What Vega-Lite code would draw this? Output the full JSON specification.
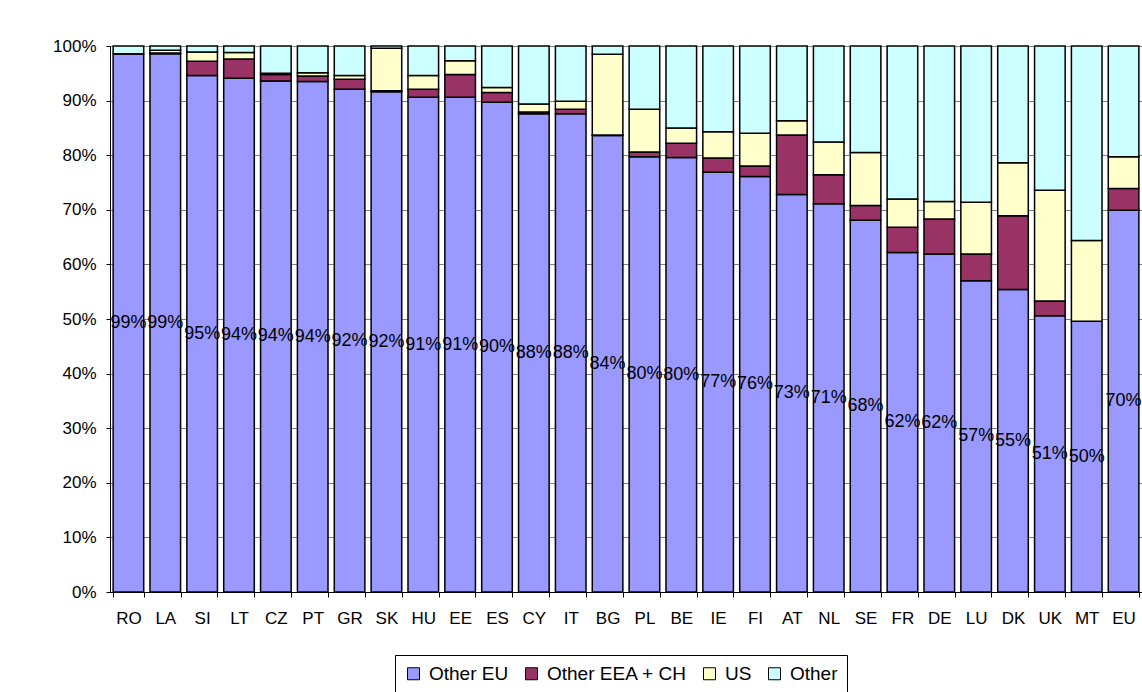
{
  "$schema": "https://vega.github.io/schema/vega-lite/v6.json",
  "width": 1032,
  "height": 546,
  "autosize": {"type": "none"},
  "padding": {"left": 110, "top": 46, "right": 0, "bottom": 100},
  "background": "white",
  "config": {
    "font": "Liberation Sans",
    "view": {"stroke": null},
    "axis": {"labelColor": "black", "domainColor": "black", "tickColor": "black", "labelFont": "Liberation Sans"}
  },
  "datasets": {
    "d": [
      {"c":"RO","s":"Other EU","v":0.986},{"c":"RO","s":"Other EEA + CH","v":0.0},{"c":"RO","s":"US","v":0.0},{"c":"RO","s":"Other","v":0.014},
      {"c":"LA","s":"Other EU","v":0.986},{"c":"LA","s":"Other EEA + CH","v":0.001},{"c":"LA","s":"US","v":0.005},{"c":"LA","s":"Other","v":0.008},
      {"c":"SI","s":"Other EU","v":0.946},{"c":"SI","s":"Other EEA + CH","v":0.026},{"c":"SI","s":"US","v":0.017},{"c":"SI","s":"Other","v":0.011},
      {"c":"LT","s":"Other EU","v":0.941},{"c":"LT","s":"Other EEA + CH","v":0.035},{"c":"LT","s":"US","v":0.012},{"c":"LT","s":"Other","v":0.012},
      {"c":"CZ","s":"Other EU","v":0.936},{"c":"CZ","s":"Other EEA + CH","v":0.012},{"c":"CZ","s":"US","v":0.002},{"c":"CZ","s":"Other","v":0.050},
      {"c":"PT","s":"Other EU","v":0.935},{"c":"PT","s":"Other EEA + CH","v":0.010},{"c":"PT","s":"US","v":0.006},{"c":"PT","s":"Other","v":0.049},
      {"c":"GR","s":"Other EU","v":0.921},{"c":"GR","s":"Other EEA + CH","v":0.018},{"c":"GR","s":"US","v":0.007},{"c":"GR","s":"Other","v":0.054},
      {"c":"SK","s":"Other EU","v":0.916},{"c":"SK","s":"Other EEA + CH","v":0.002},{"c":"SK","s":"US","v":0.078},{"c":"SK","s":"Other","v":0.004},
      {"c":"HU","s":"Other EU","v":0.906},{"c":"HU","s":"Other EEA + CH","v":0.015},{"c":"HU","s":"US","v":0.025},{"c":"HU","s":"Other","v":0.054},
      {"c":"EE","s":"Other EU","v":0.906},{"c":"EE","s":"Other EEA + CH","v":0.042},{"c":"EE","s":"US","v":0.025},{"c":"EE","s":"Other","v":0.027},
      {"c":"ES","s":"Other EU","v":0.897},{"c":"ES","s":"Other EEA + CH","v":0.018},{"c":"ES","s":"US","v":0.009},{"c":"ES","s":"Other","v":0.076},
      {"c":"CY","s":"Other EU","v":0.876},{"c":"CY","s":"Other EEA + CH","v":0.003},{"c":"CY","s":"US","v":0.015},{"c":"CY","s":"Other","v":0.106},
      {"c":"IT","s":"Other EU","v":0.876},{"c":"IT","s":"Other EEA + CH","v":0.008},{"c":"IT","s":"US","v":0.015},{"c":"IT","s":"Other","v":0.101},
      {"c":"BG","s":"Other EU","v":0.836},{"c":"BG","s":"Other EEA + CH","v":0.001},{"c":"BG","s":"US","v":0.148},{"c":"BG","s":"Other","v":0.015},
      {"c":"PL","s":"Other EU","v":0.797},{"c":"PL","s":"Other EEA + CH","v":0.009},{"c":"PL","s":"US","v":0.078},{"c":"PL","s":"Other","v":0.116},
      {"c":"BE","s":"Other EU","v":0.796},{"c":"BE","s":"Other EEA + CH","v":0.026},{"c":"BE","s":"US","v":0.028},{"c":"BE","s":"Other","v":0.150},
      {"c":"IE","s":"Other EU","v":0.769},{"c":"IE","s":"Other EEA + CH","v":0.026},{"c":"IE","s":"US","v":0.048},{"c":"IE","s":"Other","v":0.157},
      {"c":"FI","s":"Other EU","v":0.761},{"c":"FI","s":"Other EEA + CH","v":0.019},{"c":"FI","s":"US","v":0.060},{"c":"FI","s":"Other","v":0.160},
      {"c":"AT","s":"Other EU","v":0.728},{"c":"AT","s":"Other EEA + CH","v":0.109},{"c":"AT","s":"US","v":0.026},{"c":"AT","s":"Other","v":0.137},
      {"c":"NL","s":"Other EU","v":0.711},{"c":"NL","s":"Other EEA + CH","v":0.053},{"c":"NL","s":"US","v":0.060},{"c":"NL","s":"Other","v":0.176},
      {"c":"SE","s":"Other EU","v":0.681},{"c":"SE","s":"Other EEA + CH","v":0.027},{"c":"SE","s":"US","v":0.097},{"c":"SE","s":"Other","v":0.195},
      {"c":"FR","s":"Other EU","v":0.622},{"c":"FR","s":"Other EEA + CH","v":0.046},{"c":"FR","s":"US","v":0.052},{"c":"FR","s":"Other","v":0.280},
      {"c":"DE","s":"Other EU","v":0.619},{"c":"DE","s":"Other EEA + CH","v":0.064},{"c":"DE","s":"US","v":0.032},{"c":"DE","s":"Other","v":0.285},
      {"c":"LU","s":"Other EU","v":0.570},{"c":"LU","s":"Other EEA + CH","v":0.049},{"c":"LU","s":"US","v":0.095},{"c":"LU","s":"Other","v":0.286},
      {"c":"DK","s":"Other EU","v":0.554},{"c":"DK","s":"Other EEA + CH","v":0.135},{"c":"DK","s":"US","v":0.097},{"c":"DK","s":"Other","v":0.214},
      {"c":"UK","s":"Other EU","v":0.506},{"c":"UK","s":"Other EEA + CH","v":0.027},{"c":"UK","s":"US","v":0.203},{"c":"UK","s":"Other","v":0.264},
      {"c":"MT","s":"Other EU","v":0.496},{"c":"MT","s":"Other EEA + CH","v":0.0},{"c":"MT","s":"US","v":0.148},{"c":"MT","s":"Other","v":0.356},
      {"c":"EU","s":"Other EU","v":0.699},{"c":"EU","s":"Other EEA + CH","v":0.040},{"c":"EU","s":"US","v":0.058},{"c":"EU","s":"Other","v":0.203}
    ]
  },
  "data": {"name": "d"},
  "layer": [
    {
      "transform": [{"calculate": "indexof(['Other EU','Other EEA + CH','US','Other'], datum.s)", "as": "k"}],
      "mark": {"type": "bar", "stroke": "black", "strokeWidth": 1.5},
      "encoding": {
        "x": {
          "field": "c", "type": "nominal", "sort": null,
          "scale": {"paddingInner": 0.17, "paddingOuter": 0.085},
          "axis": {"title": null, "labelAngle": 0, "labelFontSize": 17, "tickBand": "extent", "tickSize": 5, "labelPadding": 13, "domainWidth": 1}
        },
        "y": {
          "field": "v", "type": "quantitative", "stack": "zero",
          "scale": {"domain": [0, 1], "nice": false},
          "axis": {"title": null, "values": [0,0.1,0.2,0.3,0.4,0.5,0.6,0.7,0.8,0.9,1], "format": ".0%", "labelFontSize": 17, "tickSize": 4, "labelPadding": 10, "grid": true, "gridColor": "#808080", "gridWidth": 1, "domainWidth": 1}
        },
        "order": {"field": "k", "type": "quantitative", "sort": "ascending"},
        "color": {
          "field": "s", "type": "nominal",
          "sort": ["Other EU", "Other EEA + CH", "US", "Other"],
          "scale": {"domain": ["Other EU", "Other EEA + CH", "US", "Other"], "range": ["#9999FF", "#993366", "#FFFFCC", "#CCFFFF"]},
          "legend": {
            "title": null, "orient": "none", "direction": "horizontal",
            "legendX": 285, "legendY": 609,
            "strokeColor": "black", "padding": 9, "fillColor": "white",
            "symbolType": "square", "symbolSize": 144, "symbolStrokeColor": "black", "symbolStrokeWidth": 1, "symbolOpacity": 1,
            "labelFontSize": 19, "labelColor": "black", "labelOffset": 6, "columnPadding": 13, "labelLimit": 400
          }
        }
      }
    },
    {
      "transform": [{"filter": "datum.s === 'Other EU'"}],
      "mark": {"type": "text", "fontSize": 18, "color": "black", "align": "center", "baseline": "middle"},
      "encoding": {
        "x": {"field": "c", "type": "nominal", "sort": null},
        "y": {"field": "v", "type": "quantitative", "stack": null, "scale": {"domain": [0, 2], "nice": false}, "axis": null},
        "text": {"field": "v", "type": "quantitative", "format": ".0%"}
      }
    }
  ],
  "resolve": {"scale": {"y": "independent"}}
}
